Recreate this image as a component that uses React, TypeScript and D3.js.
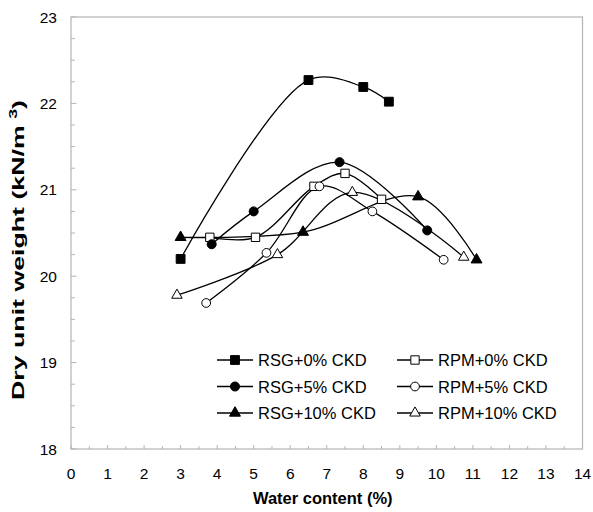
import * as d3 from 'd3';
import { useEffect, useRef } from 'react';

// water content (%) and dry unit weight (kN/m3)
const rsg0X = [3.0, 6.5, 8.0, 8.7];
const rsg0Y = [20.2, 22.27, 22.19, 22.02];
const rsg5X = [3.85, 5.0, 7.35, 9.75];
const rsg5Y = [20.37, 20.75, 21.32, 20.53];
const rsg10X = [3.0, 6.35, 9.5, 11.1];
const rsg10Y = [20.45, 20.51, 20.92, 20.19];
const rpm0X = [3.8, 5.05, 6.65, 7.5, 8.5];
const rpm0Y = [20.45, 20.45, 21.04, 21.19, 20.89];
const rpm5X = [3.7, 5.35, 6.8, 8.25, 10.2];
const rpm5Y = [19.69, 20.27, 21.04, 20.75, 20.19];
const rpm10X = [2.9, 5.65, 7.7, 10.75];
const rpm10Y = [19.78, 20.25, 20.97, 20.22];

const xTicks = d3.range(0, 15, 1);
const yTicks = [18, 19, 20, 21, 22, 23];

const series = [
  { name: 'RSG+0% CKD', xs: rsg0X, ys: rsg0Y, shape: d3.symbolSquare, size: 78, open: false },
  { name: 'RPM+0% CKD', xs: rpm0X, ys: rpm0Y, shape: d3.symbolSquare, size: 70, open: true },
  { name: 'RSG+5% CKD', xs: rsg5X, ys: rsg5Y, shape: d3.symbolCircle, size: 64, open: false },
  { name: 'RPM+5% CKD', xs: rpm5X, ys: rpm5Y, shape: d3.symbolCircle, size: 60, open: true },
  { name: 'RSG+10% CKD', xs: rsg10X, ys: rsg10Y, shape: d3.symbolTriangle, size: 52, open: false },
  { name: 'RPM+10% CKD', xs: rpm10X, ys: rpm10Y, shape: d3.symbolTriangle, size: 48, open: true },
];

export default function App() {
  const ref = useRef<SVGSVGElement>(null);

  useEffect(() => {
    const svg = d3.select(ref.current);
    svg.selectAll('*').remove();

    const left = 71, right = 582.5, top = 17, bottom = 449;
    const x = d3.scaleLinear().domain([0, 14]).range([left, right]);
    const y = d3.scaleLinear().domain([18, 23]).range([bottom, top]);
    const font = 'Liberation Sans, Arial, sans-serif';
    const grey = '#b4b4b4';

    svg.append('rect')
      .attr('x', left).attr('y', top)
      .attr('width', right - left).attr('height', bottom - top)
      .attr('fill', 'white').attr('stroke', grey).attr('stroke-width', 1.2);

    // inside ticks
    d3.range(0, 14.01, 0.5).forEach(v => {
      const len = Number.isInteger(v) ? 4 : 3;
      svg.append('line')
        .attr('x1', x(v)).attr('x2', x(v))
        .attr('y1', bottom).attr('y2', bottom - len)
        .attr('stroke', grey);
    });
    d3.range(18, 23.01, 0.25).forEach(v => {
      const len = Number.isInteger(v) ? 5.5 : 4;
      svg.append('line')
        .attr('x1', left).attr('x2', left + len)
        .attr('y1', y(v)).attr('y2', y(v))
        .attr('stroke', grey);
    });

    svg.append('g').selectAll('text').data(xTicks).enter().append('text')
      .attr('x', d => x(d)).attr('y', 473)
      .attr('text-anchor', 'middle').attr('dominant-baseline', 'central')
      .style('font-family', font).style('font-size', '15.5px')
      .text(d => d);

    svg.append('g').selectAll('text').data(yTicks).enter().append('text')
      .attr('x', 57).attr('y', d => y(d))
      .attr('text-anchor', 'end').attr('dominant-baseline', 'central')
      .style('font-family', font).style('font-size', '15.5px')
      .text(d => d);

    svg.append('text')
      .attr('x', (left + right) / 2 - 4).attr('y', 498)
      .attr('text-anchor', 'middle').attr('dominant-baseline', 'central')
      .style('font-family', font).style('font-size', '16.5px').style('font-weight', 'bold')
      .text('Water content (%)');

    // the y title is drawn stretched along its length in the original
    const yl = svg.append('text')
      .attr('transform', 'translate(24,400) rotate(-90)')
      .attr('text-anchor', 'start')
      .attr('textLength', 300).attr('lengthAdjust', 'spacingAndGlyphs')
      .style('font-family', font).style('font-size', '16.5px').style('font-weight', 'bold');
    yl.append('tspan').text('Dry unit weight (kN/m');
    yl.append('tspan').attr('dx', 4).attr('dy', -7).style('font-size', '11px').text('3');
    yl.append('tspan').attr('dy', 7).text(')');

    const line = d3.line<[number, number]>()
      .x(d => x(d[0])).y(d => y(d[1]))
      .curve(d3.curveCatmullRom.alpha(0.5));

    series.forEach(s => {
      const pts = s.xs.map((v, i) => [v, s.ys[i]] as [number, number]);
      svg.append('path')
        .attr('d', line(pts))
        .attr('fill', 'none').attr('stroke', 'black').attr('stroke-width', 1.3);
    });
    series.forEach(s => {
      const sym = d3.symbol().type(s.shape).size(s.size);
      s.xs.forEach((v, i) => {
        svg.append('path')
          .attr('d', sym())
          .attr('transform', `translate(${x(v)},${y(s.ys[i])})`)
          .attr('fill', s.open ? 'white' : 'black')
          .attr('stroke', 'black').attr('stroke-width', 1);
      });
    });

    // legend, two columns, three rows
    series.forEach((s, i) => {
      const col = i % 2, row = Math.floor(i / 2);
      const lx = 217 + col * 180, ly = 360 + row * 26.5;
      const g = svg.append('g');
      g.append('line')
        .attr('x1', lx).attr('x2', lx + 36).attr('y1', ly).attr('y2', ly)
        .attr('stroke', 'black').attr('stroke-width', 1.3);
      g.append('path')
        .attr('d', d3.symbol().type(s.shape).size(s.size)())
        .attr('transform', `translate(${lx + 18},${ly})`)
        .attr('fill', s.open ? 'white' : 'black')
        .attr('stroke', 'black').attr('stroke-width', 1);
      g.append('text')
        .attr('x', lx + 41).attr('y', ly)
        .attr('dominant-baseline', 'central')
        .style('font-family', font).style('font-size', '16.5px')
        .text(s.name);
    });
  }, []);

  return (
    <svg ref={ref} width={593} height={512}
      style={{ position: 'absolute', left: 0, top: 0, background: 'white' }} />
  );
}
